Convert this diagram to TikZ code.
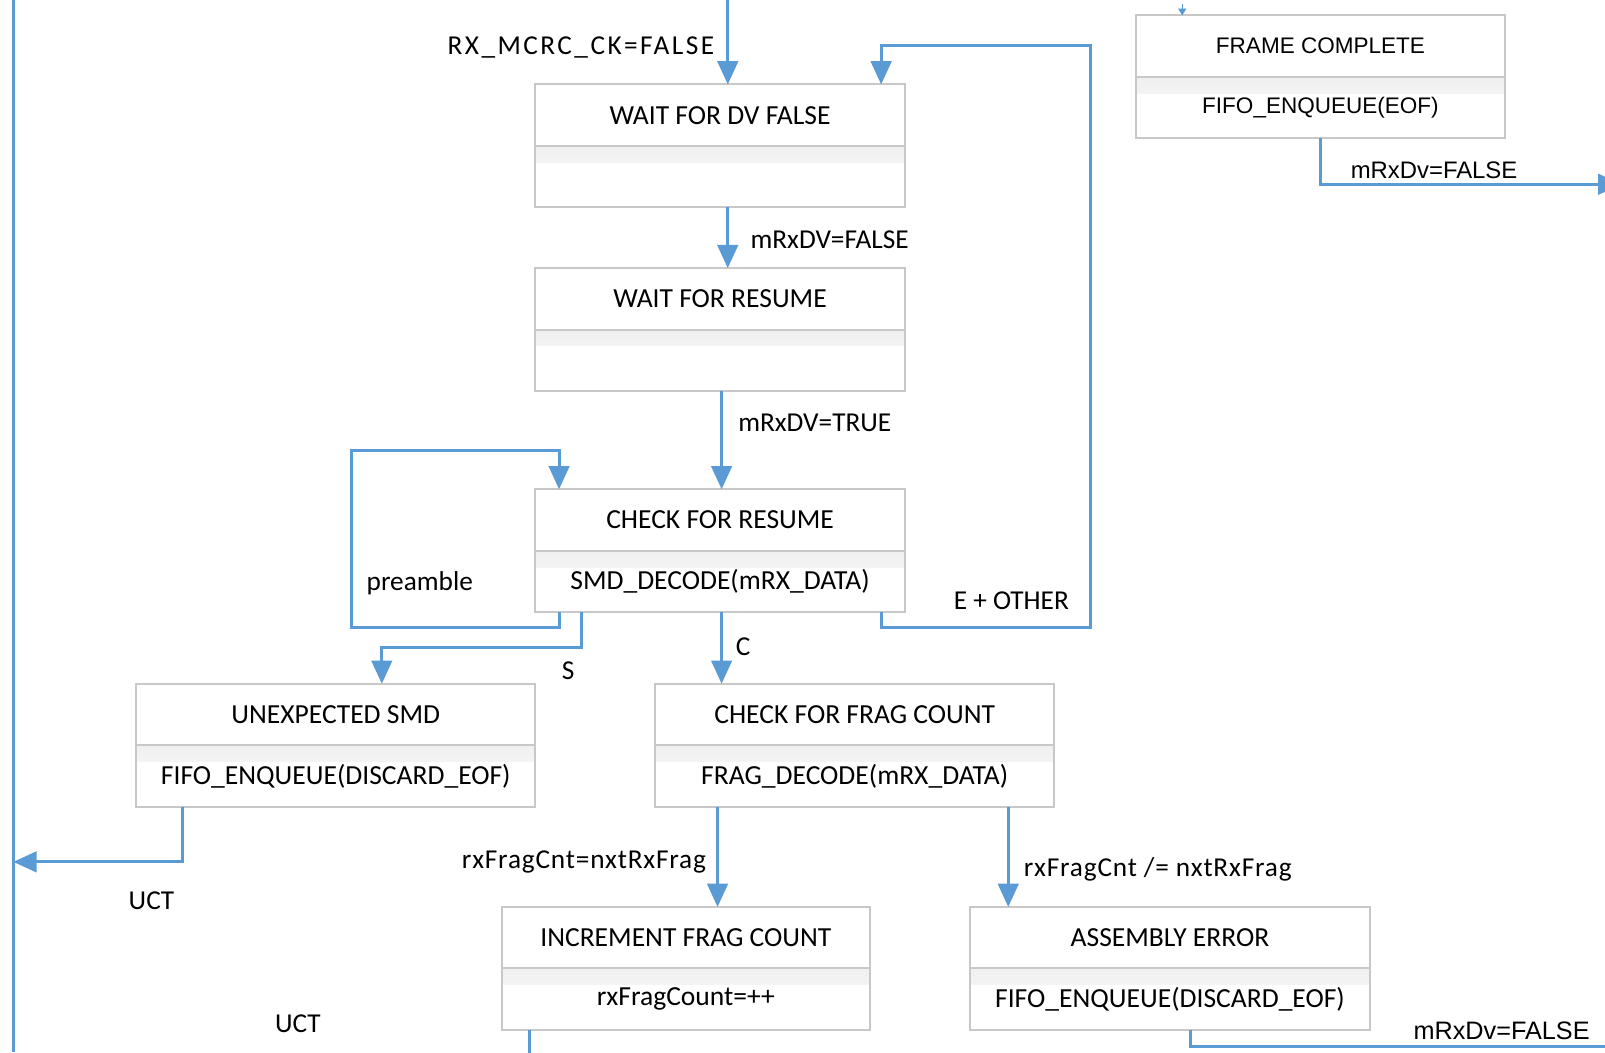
\documentclass[tikz,border=0pt]{standalone}
\usepackage{fontspec}
\setmainfont{Carlito}
\newfontfamily\arialfont{Liberation Sans}
\usetikzlibrary{arrows.meta,positioning}

\definecolor{flowblue}{HTML}{5B9BD5}
\definecolor{boxgray}{HTML}{C8C8C8}

\begin{document}
\begin{tikzpicture}[x=0.75pt, y=-0.75pt,
    state/.style={draw=boxgray, line width=1.5pt, fill=white, minimum width=#1,
        minimum height=45pt, inner sep=0pt, outer sep=0pt,
        font=\fontsize{20.2}{22}\selectfont},
    state/.default=270.75pt,
    action/.style={state=#1,
        path picture={\shade[top color=black!6, bottom color=white]
            (path picture bounding box.north west) rectangle
            ([yshift=-12pt]path picture bounding box.north east);}},
    action/.default=270.75pt,
    flow/.style={draw=flowblue, line width=2.2pt,
        -{Triangle[width=15pt, length=17pt]}},
    wire/.style={draw=flowblue, line width=2.2pt},
    lbl/.style={inner sep=0pt, font=\fontsize{20}{22}\selectfont},
    wide/.style={font=\fontsize{20}{22}\selectfont\addfontfeature{LetterSpace=#1}},
    albl/.style={inner sep=0pt, font=\arialfont\fontsize{18.5}{22}\selectfont}
]
\useasboundingbox (0,0) rectangle (1568,1028);

% --- Zustaende ---
\node[state] (wdv) at (703.5,112.5) {WAIT FOR DV FALSE};
\node[action, below=0pt of wdv] (wdv-a) {};

\node[state] (wres) at (703.5,292) {WAIT FOR RESUME};
\node[action, below=0pt of wres] (wres-a) {};

\node[state] (chk) at (703.5,508) {CHECK FOR RESUME};
\node[action, below=0pt of chk] (chk-a) {SMD\_DECODE(mRX\_DATA)};

\node[state=292.5pt] (usmd) at (328,698) {UNEXPECTED SMD};
\node[action=292.5pt, below=0pt of usmd] (usmd-a) {FIFO\_ENQUEUE(DISCARD\_EOF)};

\node[state=292.5pt] (cfc) at (835,698) {CHECK FOR FRAG COUNT};
\node[action=292.5pt, below=0pt of cfc] (cfc-a) {FRAG\_DECODE(mRX\_DATA)};

\node[state=270pt] (inc) at (670,916) {INCREMENT FRAG COUNT};
\node[action=270pt, below=0pt of inc] (inc-a) {rxFragCount=++};

\node[state=292.5pt] (asm) at (1143,916) {ASSEMBLY ERROR};
\node[action=292.5pt, below=0pt of asm] (asm-a) {FIFO\_ENQUEUE(DISCARD\_EOF)};

\node[state=270pt, font=\arialfont\fontsize{16.5}{20}\selectfont] (fc) at (1290,45) {FRAME COMPLETE};
\node[action=270pt, font=\arialfont\fontsize{16.5}{20}\selectfont, below=0pt of fc] (fc-a) {FIFO\_ENQUEUE(EOF)};

% --- Hilfspunkte ---
\coordinate (in1) at (711,0);      % Eingang oben
\coordinate (bus) at (13,0);       % linke Sammelleitung
\coordinate (uct1) at (13,842);
\coordinate (loop) at (343,440);   % preamble-Schleife
\coordinate (eo) at (1065,44);     % E + OTHER zurueck
\coordinate (inc-out) at (517,1032);
\coordinate (asm-out) at (1572,1022);
\coordinate (fc-out) at (1584,180);

% --- Linke Leitung ---
\draw[wire] (bus) -- (13,1028);

% --- Uebergaenge ---
\draw[flow] (in1) -- (in1 |- wdv.north);
\node[lbl, wide=9, anchor=east] (l-mcrc) at (698,46) {RX\_MCRC\_CK=FALSE};

\draw[flow] ([xshift=5.6pt]wdv-a.south) -- ([xshift=5.6pt]wres.north);
\node[lbl, anchor=west] (l-dvf) at (733,234) {mRxDV=FALSE};

\draw[flow] ([xshift=1.1pt]wres-a.south) -- ([xshift=1.1pt]chk.north);
\node[lbl, anchor=west] (l-dvt) at (721,413) {mRxDV=TRUE};

% preamble
\draw[flow] ([xshift=-118pt]chk-a.south) -- ++(0,15) -| (loop) -| ([xshift=-118pt]chk.north);
\node[lbl, anchor=west] (l-pre) at (358,570) {preamble};

% S
\draw[flow] ([xshift=-101.6pt]chk-a.south) -- ++(0,35) -| ([xshift=33.75pt]usmd.north);
\node[lbl] (l-s) at (555,655) {S};

% C
\draw[flow] ([xshift=1.1pt]chk-a.south) -- ([xshift=1.1pt]chk-a.south |- cfc.north);
\node[lbl] (l-c) at (726,632) {C};

% E + OTHER
\draw[flow] ([xshift=118pt]chk-a.south) -- ++(0,15) -| (eo) -| ([xshift=118pt]wdv.north);
\node[lbl] (l-eo) at (988,587) {E + OTHER};

% UCT nach links
\draw[flow] ([xshift=-112.5pt]usmd-a.south) |- (uct1);
\node[lbl] (l-uct1) at (148,880) {UCT};

% Fragmentzaehler
\draw[flow] ([xshift=-100.5pt]cfc-a.south) -- ([xshift=-100.5pt]cfc-a.south |- inc.north);
\node[lbl, wide=3, anchor=east] (l-eq) at (690,842) {rxFragCnt=nxtRxFrag};

\draw[flow] ([xshift=112.5pt]cfc-a.south) -- ([xshift=112.5pt]cfc-a.south |- asm.north);
\node[lbl, wide=3, anchor=west] (l-neq) at (1000,849) {rxFragCnt /= nxtRxFrag};

\draw[wire] ([xshift=-114.75pt]inc-a.south) -- (inc-out);
\node[lbl] (l-uct2) at (291,1000) {UCT};

\draw[wire] ([xshift=15pt]asm-a.south) |- (asm-out);
\node[albl] (l-dv2) at (1467,1007) {mRxDv=FALSE};

% FRAME COMPLETE
\draw[flow, -{Triangle[width=6pt, length=5pt]}, line width=0.6pt] (1155,4) -- ([xshift=-101.25pt]fc.north);
\draw[flow] (fc-a.south) |- (fc-out);
\node[albl, font=\arialfont\fontsize{17.5}{22}\selectfont] (l-dv1) at (1401,166) {mRxDv=FALSE};

\end{tikzpicture}
\end{document}
